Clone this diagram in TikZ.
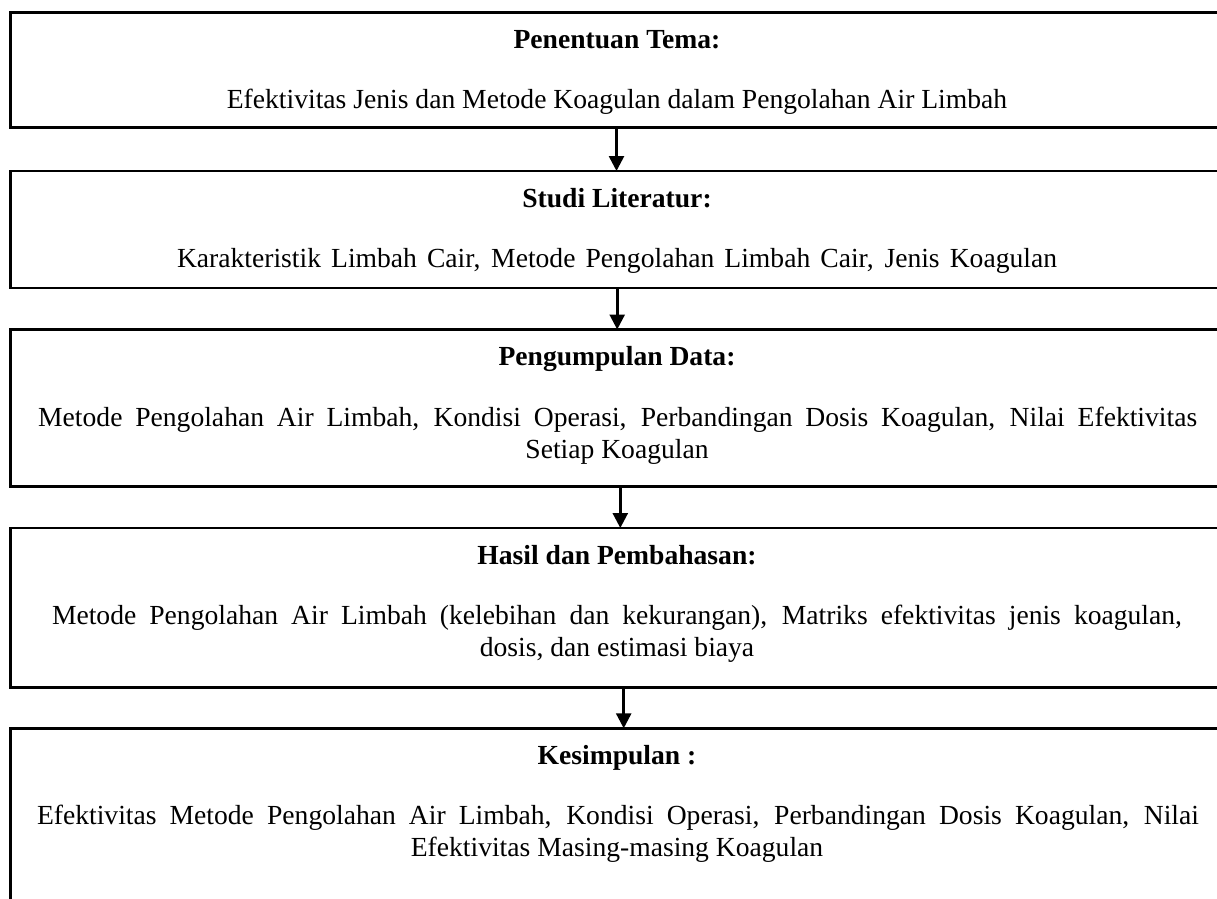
\documentclass[tikz,border=0pt]{standalone}
\usepackage{fontspec}
\setmainfont{Liberation Serif}
\usetikzlibrary{arrows.meta,calc}
\tikzset{
  box/.style={draw=black, line width=2.8pt, inner sep=0pt, outer sep=0pt, anchor=north west, minimum width=1213pt},
  ttl/.style={anchor=base, inner sep=0pt, font=\fontsize{27.6}{32.2}\selectfont\bfseries},
  body/.style={anchor=base, inner sep=0pt, font=\fontsize{27.6}{32.2}\selectfont},
  arr/.style={line width=2.6pt, -{Triangle[width=15pt,length=15pt]}}
}
\begin{document}
\begin{tikzpicture}[x=1pt,y=-1pt]
\useasboundingbox (0,0) rectangle (1217,898);
\clip (0,0) rectangle (1217,898);
\node[box, minimum height=115.5pt] (b1) at (10.5,12.3) {};
\node[box, minimum height=117pt] (b2) at (10.5,171) {};
\node[box, minimum height=157pt] (b3) at (10.5,329.5) {};
\node[box, minimum height=159.8pt] (b4) at (10.5,528) {};
\node[box, minimum height=220pt] (b5) at (10.5,728.3) {};

\node[ttl] (t1) at (617,48.5) {Penentuan Tema:};
\node[body] (d1) at (617,108) {Efektivitas Jenis dan Metode Koagulan dalam Pengolahan Air Limbah};
\node[ttl] (t2) at (617,207) {Studi Literatur:};
\node[body] (d2) at (617,267) {\makebox[880pt][s]{Karakteristik Limbah Cair, Metode Pengolahan Limbah Cair, Jenis Koagulan}};
\node[ttl] (t3) at (617,365.5) {Pengumpulan Data:};
\node[body] (d3) at (617.7,426) {\makebox[1159pt][s]{Metode Pengolahan Air Limbah, Kondisi Operasi, Perbandingan Dosis Koagulan, Nilai Efektivitas}};
\node[body] (d3b) at (617,458.2) {Setiap Koagulan};
\node[ttl] (t4) at (617,564) {Hasil dan Pembahasan:};
\node[body] (d4) at (617,624) {\makebox[1130pt][s]{Metode Pengolahan Air Limbah (kelebihan dan kekurangan), Matriks efektivitas jenis koagulan,}};
\node[body] (d4b) at (617,656.2) {dosis, dan estimasi biaya};
\node[ttl] (t5) at (617,764.5) {Kesimpulan :};
\node[body] (d5) at (618,824.5) {\makebox[1162pt][s]{Efektivitas Metode Pengolahan Air Limbah, Kondisi Operasi, Perbandingan Dosis Koagulan, Nilai}};
\node[body] (d5b) at (617,856.7) {Efektivitas Masing-masing Koagulan};

\draw[arr] ($(b1.south)+(-0.5,0)$) -- ($(b2.north)+(-0.5,0)$);
\draw[arr] ($(b2.south)+(0.2,0)$) -- ($(b3.north)+(0.2,0)$);
\draw[arr] ($(b3.south)+(3.3,0)$) -- ($(b4.north)+(3.3,0)$);
\draw[arr] ($(b4.south)+(6.7,0)$) -- ($(b5.north)+(6.7,0)$);
\end{tikzpicture}
\end{document}
